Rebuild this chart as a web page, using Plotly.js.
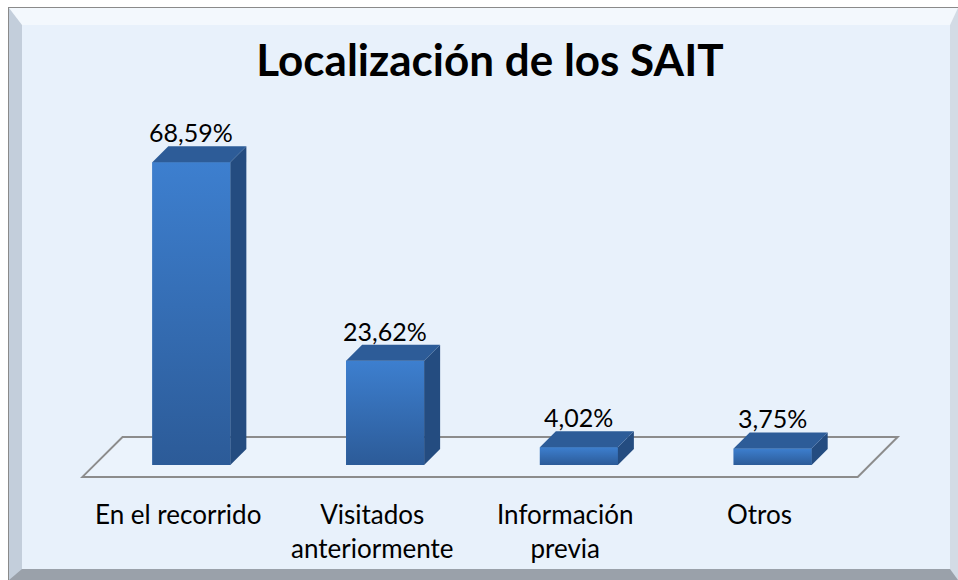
<!DOCTYPE html>
<html>
<head>
<meta charset="utf-8">
<script src="https://cdn.plot.ly/plotly-3.0.1.min.js"></script>
<style>
  html, body { margin:0; padding:0; background:#ffffff; }
  #frame {
    position:absolute; left:9px; top:8px; width:949px; height:572px;
    box-sizing:border-box;
    border-style:solid; border-width:17px 8px 11px 13px;
    border-color:#f3f8fd #d3dbe5 #9aa1aa #c3cedb;
    background:#e8f1fb;
    outline:1px solid #8a8a8a;
  }
  #chart { position:absolute; left:0; top:0; width:958px; height:580px; }
</style>
</head>
<body>
<div id="frame"></div>
<div id="chart"></div>
<script>
// ---- data ----
const categories = ["En el recorrido", "Visitados<br>anteriormente", "Información<br>previa", "Otros"];
const values = [68.59, 23.62, 4.02, 3.75];
const chartTitle = "Localización de los SAIT";

// ---- geometry / style (not data) ----
const W = 0.4026;      // front-face width in category units
const DX = 0.0826;     // depth offset x (category units)
const DY = 3.62;       // depth offset y (value units)
const FONT = "Lato, 'Open Sans', sans-serif";

const labels = values.map(v => v.toFixed(2).replace('.', ',') + '%');
const xs = values.map((v, i) => i);

const traces = [];
// front faces (bars)
traces.push({
  type: 'bar', x: xs, y: values, width: W, base: 0,
  marker: { color: '#3570b9', line: { width: 0 } },
  hoverinfo: 'skip', showlegend: false, cliponaxis: false
});
// gradient overlay, side and top faces per bar
values.forEach((v, i) => {
  const l = i - W / 2, r = i + W / 2;
  traces.push({
    type: 'scatter', mode: 'none', fill: 'toself',
    x: [l, r, r, l, l], y: [0, 0, v, v, 0],
    fillgradient: { type: 'vertical', colorscale: [[0, '#2c5b98'], [1, '#3d7fcf']] },
    hoverinfo: 'skip', showlegend: false
  });
  traces.push({
    type: 'scatter', mode: 'none', fill: 'toself',
    x: [r, r + DX, r + DX, r, r], y: [0, DY, v + DY, v, 0],
    fillcolor: '#244c80', hoverinfo: 'skip', showlegend: false
  });
  traces.push({
    type: 'scatter', mode: 'none', fill: 'toself',
    x: [l, l + DX, r + DX, r, l], y: [v, v + DY, v + DY, v, v],
    fillcolor: '#2d5c98', hoverinfo: 'skip', showlegend: false
  });
});

const annotations = [];
values.forEach((v, i) => {
  annotations.push({
    x: i, y: v + DY, xref: 'x', yref: 'y', text: labels[i],
    showarrow: false, yanchor: 'bottom', xanchor: 'center', yshift: -3,
    font: { family: FONT, size: 25, color: '#000' }
  });
  annotations.push({
    x: i, y: -5, xref: 'x', yref: 'y', text: categories[i],
    showarrow: false, yanchor: 'top', xanchor: 'center', xshift: -13, yshift: -9,
    font: { family: FONT, size: 26, color: '#000' }
  });
});

// floor parallelogram
const floor = {
  type: 'path', xref: 'x', yref: 'y', layer: 'below',
  path: 'M -0.562,-2.71 L 3.439,-2.71 L 3.645,6.33 L -0.355,6.33 Z',
  fillcolor: '#ebf3fc', line: { color: '#8c8c8c', width: 2 }
};

const layout = {
  width: 958, height: 580,
  margin: { l: 46, r: 40, t: 112, b: 93 },
  paper_bgcolor: 'rgba(0,0,0,0)', plot_bgcolor: 'rgba(0,0,0,0)',
  title: {
    text: '<b>' + chartTitle + '</b>',
    font: { family: FONT, size: 44, color: '#000' },
    xref: 'container', yref: 'container',
    x: 490 / 958, xanchor: 'center',
    y: 1 - 61 / 580, yanchor: 'middle'
  },
  xaxis: { range: [-0.75, 3.75], visible: false, fixedrange: true },
  yaxis: { range: [-5, 80], visible: false, fixedrange: true },
  showlegend: false,
  shapes: [floor],
  annotations: annotations
};

Plotly.newPlot('chart', traces, layout, { displayModeBar: false, staticPlot: true });
</script>
</body>
</html>
